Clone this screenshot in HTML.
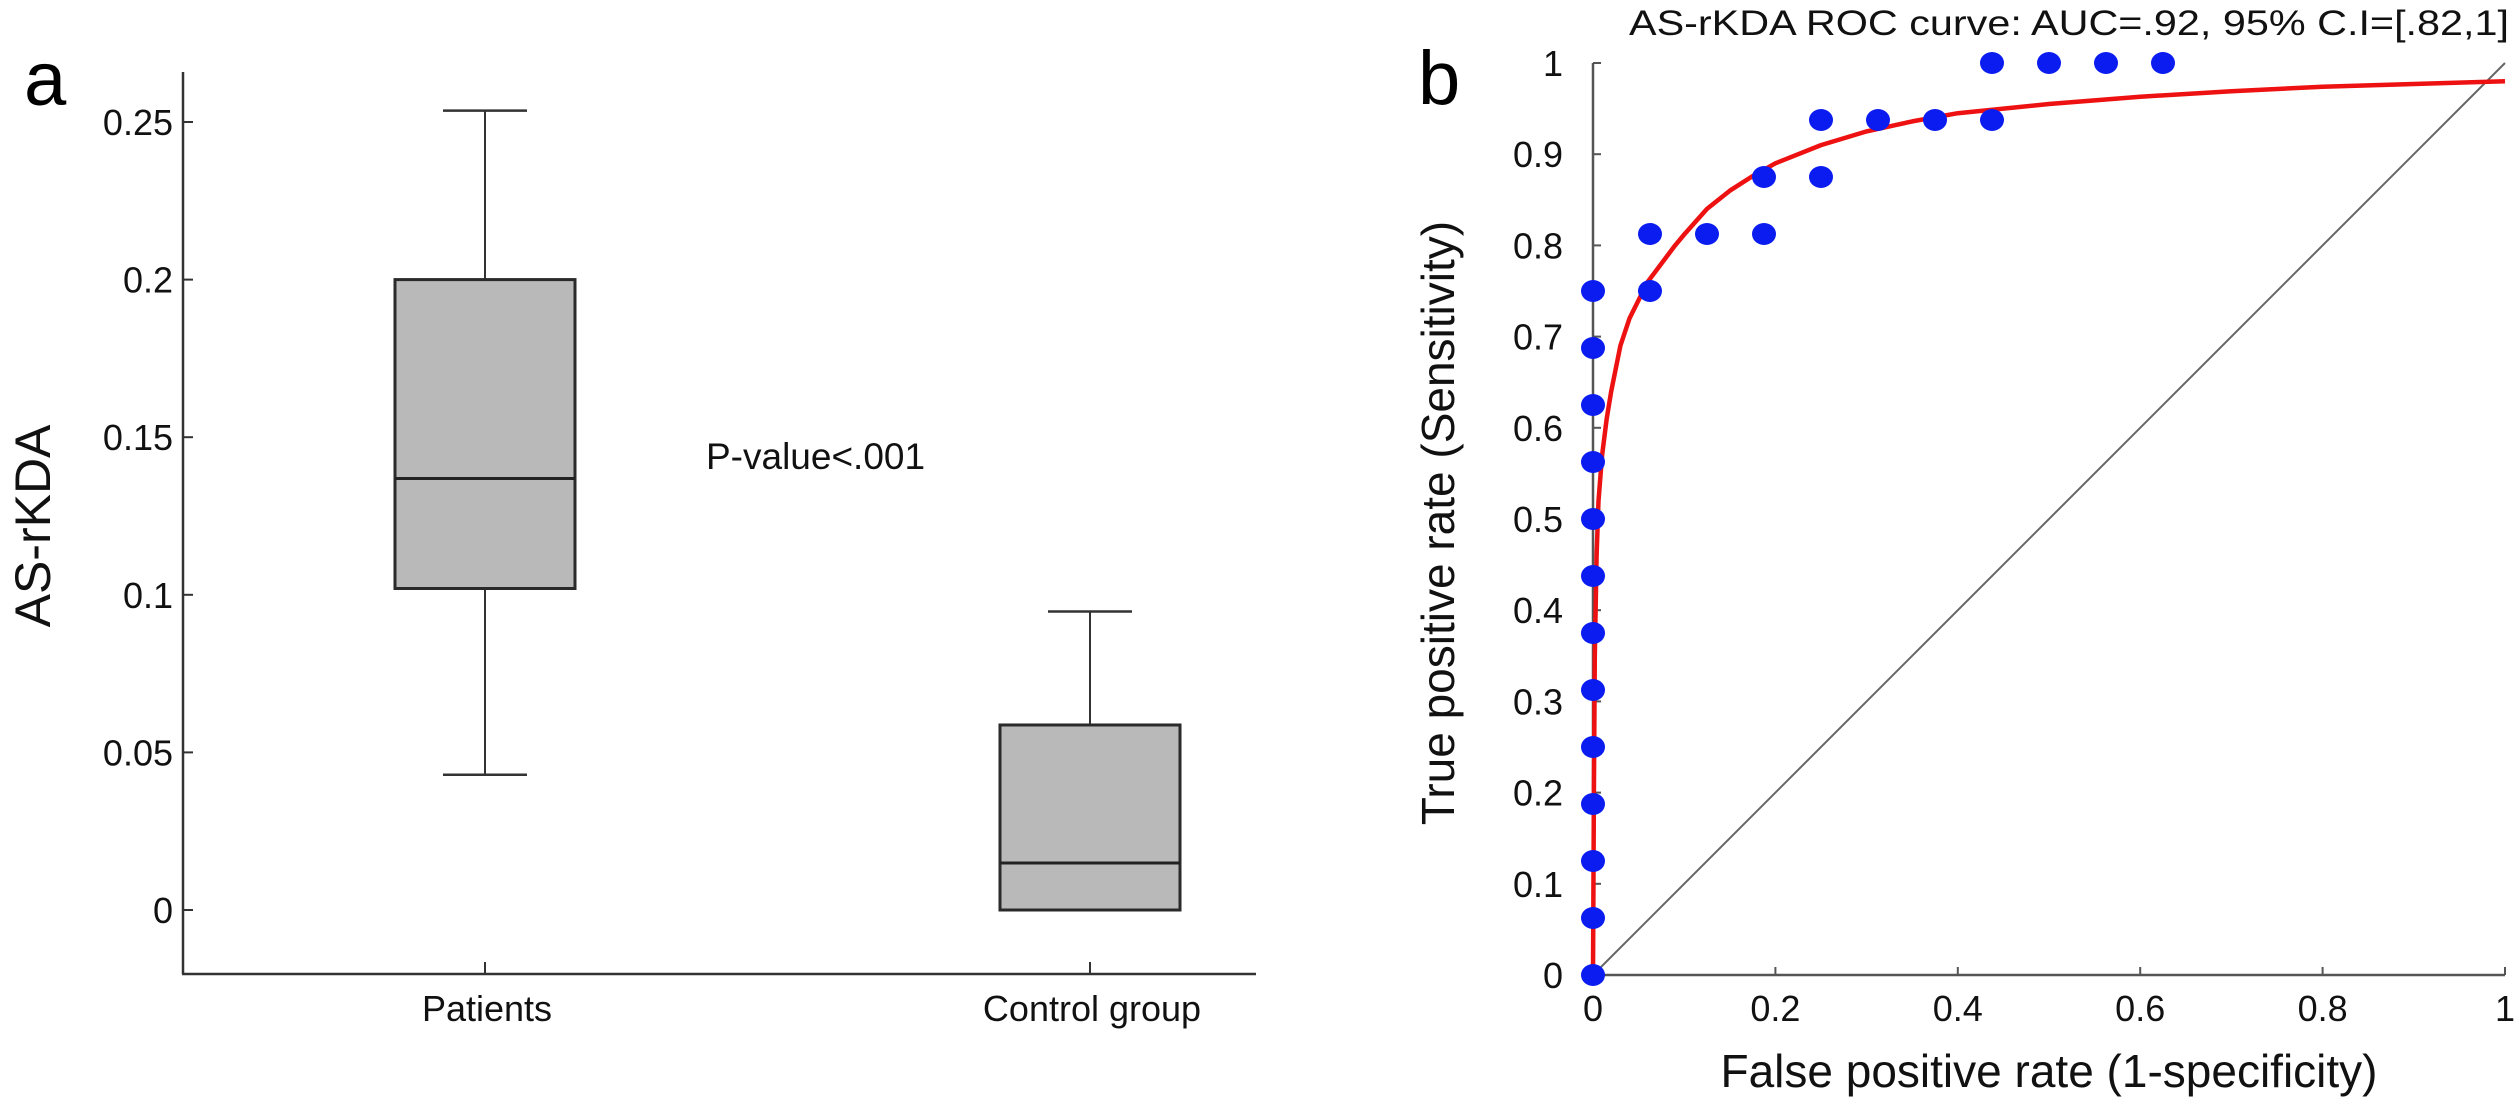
<!DOCTYPE html>
<html><head><meta charset="utf-8"><style>
html,body{margin:0;padding:0;background:#fff;}
svg{display:block;font-family:"Liberation Sans",Arial,sans-serif;}
</style></head><body>
<svg id="fig" width="2517" height="1100" viewBox="0 0 2517 1100">
<g id="left"></g>
<g id="right"></g>
</svg>
<script>
// ---- Panel a data ----
const groups = ["Patients", "Control group"];
const whiskerHigh = [0.2536, 0.0947];
const q3 = [0.200, 0.0587];
const medians = [0.1369, 0.0149];
const q1 = [0.102, 0.0];
const whiskerLow = [0.0429, 0.0];
const yTicksA = [0, 0.05, 0.1, 0.15, 0.2, 0.25];
const yTickLabelsA = ["0", "0.05", "0.1", "0.15", "0.2", "0.25"];

// ---- Panel b data ----
const pointsFpr = [0,0,0,0,0,0,0,0,0,0,0,0,0,0.0625,0.0625,0.125,0.1875,0.1875,0.25,0.25,0.3125,0.375,0.4375,0.4375,0.5,0.5625,0.625];
const pointsTpr = [0,0.0625,0.125,0.1875,0.25,0.3125,0.375,0.4375,0.5,0.5625,0.625,0.6875,0.75,0.75,0.8125,0.8125,0.8125,0.875,0.875,0.9375,0.9375,0.9375,0.9375,1,1,1,1];
const curveFpr = [0,0.001,0.002,0.004,0.006,0.01,0.015,0.02,0.03,0.04,0.05,0.06,0.075,0.09,0.1,0.125,0.15,0.175,0.2,0.25,0.3,0.35,0.4,0.5,0.6,0.7,0.8,0.9,1];
const curveTpr = [0,0.2,0.35,0.46,0.52,0.57,0.61,0.64,0.69,0.72,0.74,0.76,0.78,0.80,0.812,0.84,0.86,0.876,0.89,0.91,0.925,0.936,0.945,0.955,0.963,0.969,0.974,0.977,0.98];
const xTicksB = [0,0.2,0.4,0.6,0.8,1];
const xTickLabelsB = ["0","0.2","0.4","0.6","0.8","1"];
const yTicksB = [0,0.1,0.2,0.3,0.4,0.5,0.6,0.7,0.8,0.9,1];
const yTickLabelsB = ["0","0.1","0.2","0.3","0.4","0.5","0.6","0.7","0.8","0.9","1"];

const NS="http://www.w3.org/2000/svg";
function mk(parent, tag, attrs, text){
  const e=document.createElementNS(NS,tag);
  for(const k in attrs) e.setAttribute(k,attrs[k]);
  if(text!==undefined) e.textContent=text;
  parent.appendChild(e); return e;
}
const L=document.getElementById('left');
const R=document.getElementById('right');

// ---- Panel a ----
const yA = v => 910 - v*(910-122)/0.25;
const xA = i => [485,1090][i];
let e;
e=mk(L,'text',{x:24,y:105,'font-size':76,fill:'#000'},'a');


e=mk(L,'line',{x1:183,y1:72,x2:183,y2:974,stroke:'#333','stroke-width':2.5});


e=mk(L,'line',{x1:182,y1:974,x2:1256,y2:974,stroke:'#333','stroke-width':2.5});


yTicksA.forEach((v,i)=>{
  e=mk(L,'line',{x1:183,y1:yA(v),x2:193,y2:yA(v),stroke:'#333','stroke-width':2});
  
  
  e=mk(L,'text',{x:173,y:yA(v)+13,'font-size':36,'text-anchor':'end',fill:'#111'},yTickLabelsA[i]);
  
  
});
e=mk(L,'text',{x:0,y:0,'font-size':50,'text-anchor':'middle',fill:'#111',transform:'translate(50,526) rotate(-90)'},'AS-rKDA');


groups.forEach((g,i)=>{
  const cx=xA(i), hw=90, cap=42;
  e=mk(L,'line',{x1:cx,y1:974,x2:cx,y2:962,stroke:'#333','stroke-width':2});
  
  
  e=mk(L,'text',{x:cx+2,y:1021,'font-size':36,'text-anchor':'middle',fill:'#111'},g);
  
  
  e=mk(L,'line',{x1:cx,y1:yA(whiskerHigh[i]),x2:cx,y2:yA(q3[i]),stroke:'#333','stroke-width':2});
  
  
  e=mk(L,'line',{x1:cx-cap,y1:yA(whiskerHigh[i]),x2:cx+cap,y2:yA(whiskerHigh[i]),stroke:'#333','stroke-width':2.5});
  
  
  if(whiskerLow[i]<q1[i]){
    e=mk(L,'line',{x1:cx,y1:yA(q1[i]),x2:cx,y2:yA(whiskerLow[i]),stroke:'#333','stroke-width':2});
    
    
    e=mk(L,'line',{x1:cx-cap,y1:yA(whiskerLow[i]),x2:cx+cap,y2:yA(whiskerLow[i]),stroke:'#333','stroke-width':2.5});
    
    
  }
  e=mk(L,'rect',{x:cx-hw,y:yA(q3[i]),width:2*hw,height:yA(q1[i])-yA(q3[i]),fill:'#b9b9b9',stroke:'#2a2a2a','stroke-width':3});
  
  
  e=mk(L,'line',{x1:cx-hw,y1:yA(medians[i]),x2:cx+hw,y2:yA(medians[i]),stroke:'#222','stroke-width':3});
  
  
});
e=mk(L,'text',{x:706,y:469,'font-size':37,fill:'#111'},'P-value<.001');



// ---- Panel b ----
const x0=1593,x1=2505,y0=975,y1=63;
const xB=v=>x0+v*(x1-x0);
const yB=v=>y0-v*(y0-y1);
e=mk(R,'text',{x:1418,y:104,'font-size':76,fill:'#000'},'b');


e=mk(R,'text',{x:1629,y:35,'font-size':35,fill:'#111',textLength:880,lengthAdjust:'spacingAndGlyphs'},'AS-rKDA ROC curve: AUC=.92, 95% C.I=[.82,1]');


e=mk(R,'line',{x1:x0,y1:y1,x2:x0,y2:y0,stroke:'#555','stroke-width':2.5});


e=mk(R,'line',{x1:x0,y1:y0,x2:x1,y2:y0,stroke:'#555','stroke-width':2.5});


yTicksB.forEach((v,i)=>{
  e=mk(R,'line',{x1:x0,y1:yB(v),x2:x0+8,y2:yB(v),stroke:'#555','stroke-width':2});
  
  
  e=mk(R,'text',{x:1563,y:yB(v)+13,'font-size':36,'text-anchor':'end',fill:'#111'},yTickLabelsB[i]);
  
  
});
xTicksB.forEach((v,i)=>{
  e=mk(R,'line',{x1:xB(v),y1:y0,x2:xB(v),y2:y0-8,stroke:'#555','stroke-width':2});
  
  
  e=mk(R,'text',{x:xB(v),y:1021,'font-size':36,'text-anchor':'middle',fill:'#111'},xTickLabelsB[i]);
  
  
});
e=mk(R,'text',{x:2049,y:1087,'font-size':46,'text-anchor':'middle',fill:'#111'},'False positive rate (1-specificity)');


e=mk(R,'text',{x:0,y:0,'font-size':46,'text-anchor':'middle',fill:'#111',transform:'translate(1454,523) rotate(-90)'},'True positive rate (Sensitivity)');


e=mk(R,'line',{x1:xB(0),y1:yB(0),x2:xB(1),y2:yB(1),stroke:'#666','stroke-width':2});


let d='';
curveFpr.forEach((v,i)=>{d+=(i?'L':'M')+xB(v).toFixed(1)+' '+yB(curveTpr[i]).toFixed(1)+' ';});
e=mk(R,'path',{d:d,fill:'none',stroke:'#ee1111','stroke-width':4.5,'stroke-linejoin':'round'});


pointsFpr.forEach((v,i)=>{
  e=mk(R,'ellipse',{cx:xB(v),cy:yB(pointsTpr[i]),rx:12,ry:11,fill:'#0a1cf0'});
  
  
});
</script>
</body></html>
